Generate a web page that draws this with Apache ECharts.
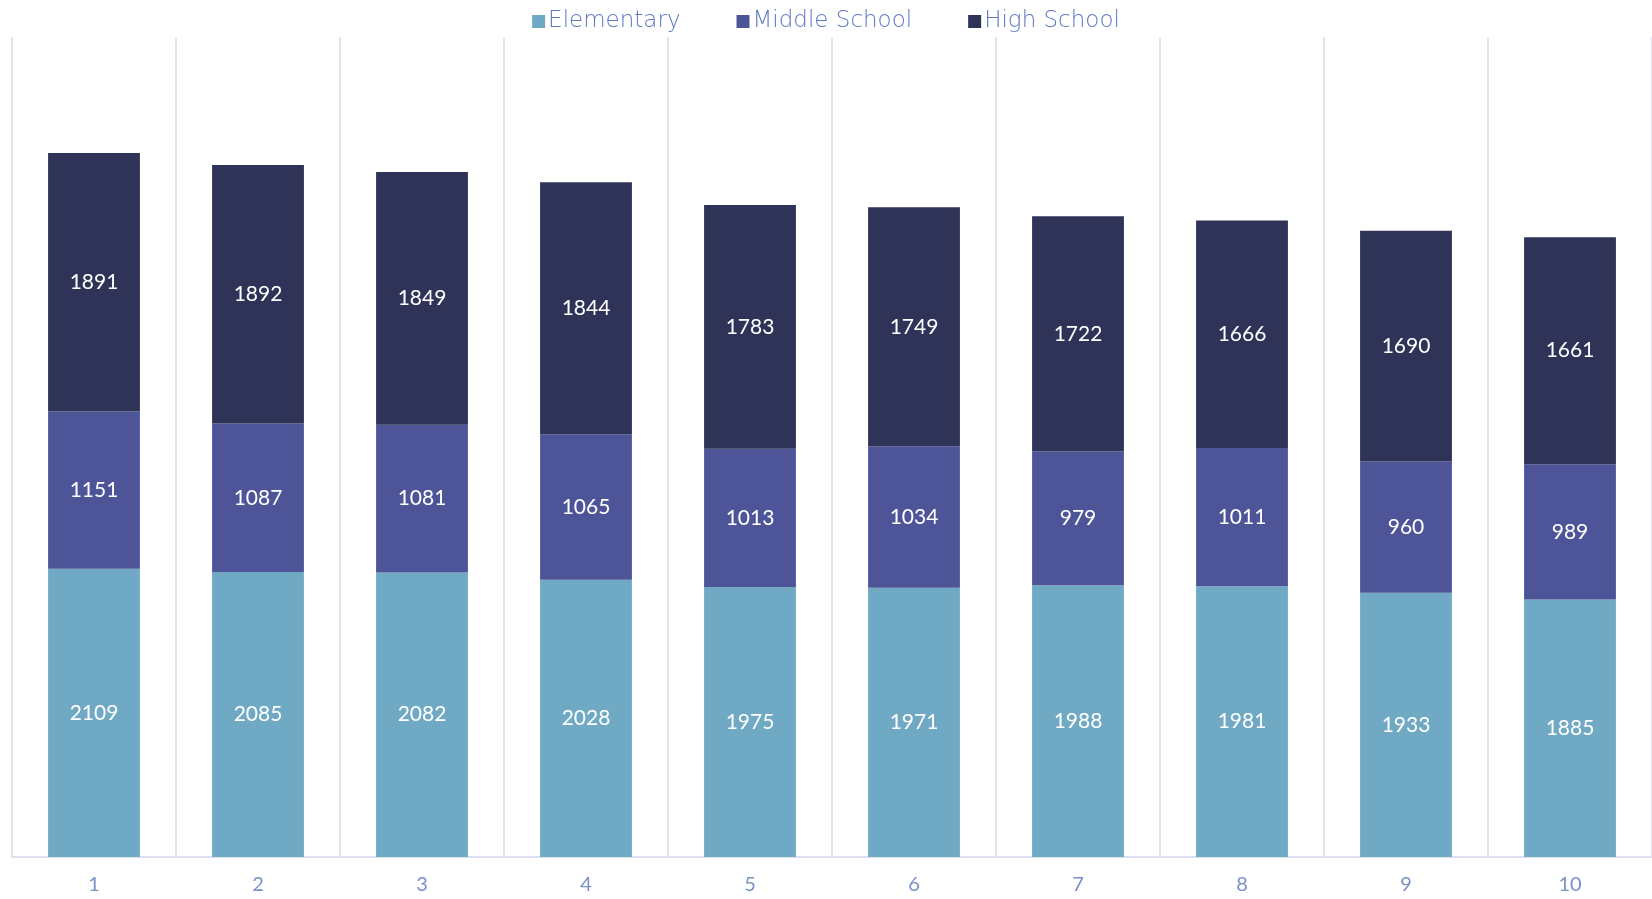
<!DOCTYPE html>
<html>
<head>
<meta charset="utf-8">
<title>Enrollment by school level</title>
<script src="https://cdn.jsdelivr.net/npm/echarts@6/dist/echarts.min.js"></script>
<style>
  html, body { margin: 0; padding: 0; background: #fff; }
  #chart { width: 1652px; height: 899px; }
</style>
</head>
<body>
<div id="chart"></div>
<script>
// categories on the x axis
const categories = ['1', '2', '3', '4', '5', '6', '7', '8', '9', '10']
// stacked series values, bottom to top
const elementary = [2109, 2085, 2082, 2028, 1975, 1971, 1988, 1981, 1933, 1885]
const middleSchool = [1151, 1087, 1081, 1065, 1013, 1034, 979, 1011, 960, 989]
const highSchool = [1891, 1892, 1849, 1844, 1783, 1749, 1722, 1666, 1690, 1661]

const labelFont = 'Lato, "Open Sans", sans-serif'
const legendFont = '"DejaVu Sans", Lato, sans-serif'

const chart = echarts.init(document.getElementById('chart'))

// one stacked bar series
function makeSeries(name, data, color) {
  return {
    name: name,
    type: 'bar',
    stack: 'total',
    barWidth: '56%',
    itemStyle: { color: color },
    label: {
      show: true,
      position: 'inside',
      color: '#ffffff',
      fontSize: 21,
      fontFamily: labelFont
    },
    data: data
  }
}

chart.setOption({
  animation: false,
  legend: {
    top: 5,
    left: 'center',
    itemWidth: 13,
    itemHeight: 13,
    itemGap: 56,
    icon: 'rect',
    textStyle: {
      color: '#5f78c2',
      fontSize: 23,
      fontWeight: 200,
      fontFamily: legendFont,
      padding: [0, 0, 0, -2]
    },
    data: ['Elementary', 'Middle School', 'High School']
  },
  grid: {
    left: 12,
    top: 37,
    width: 1652,
    bottom: 42,
    containLabel: false
  },
  xAxis: {
    type: 'category',
    data: categories,
    axisTick: { show: false },
    axisLine: { lineStyle: { color: '#dcdfee', width: 2 } },
    splitLine: { show: true, lineStyle: { color: '#e1e3f0', width: 2 } },
    axisLabel: {
      color: '#7d8fc9',
      fontSize: 20,
      fontFamily: labelFont,
      margin: 18
    }
  },
  yAxis: {
    type: 'value',
    min: 0,
    max: 6000,
    show: false,
    splitLine: { show: false }
  },
  series: [
    makeSeries('Elementary', elementary, '#70a9c4'),
    makeSeries('Middle School', middleSchool, '#4d5598'),
    makeSeries('High School', highSchool, '#2f3357')
  ]
})
</script>
</body>
</html>
